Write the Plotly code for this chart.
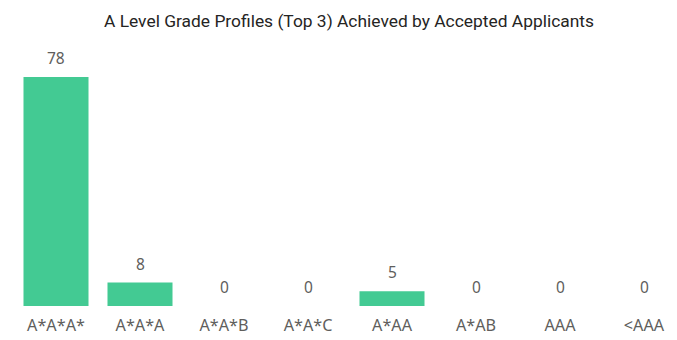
import plotly.graph_objects as go

# Grade profiles and number of accepted applicants for each
grade_profiles = ["A*A*A*", "A*A*A", "A*A*B", "A*A*C", "A*AA", "A*AB", "AAA", "<AAA"]
applicants = [78, 8, 0, 0, 5, 0, 0, 0]

bar_color = "#43CA93"
label_color = "#605E5C"
label_font = "Noto Sans"

fig = go.Figure(
    go.Bar(
        x=grade_profiles,
        y=applicants,
        marker=dict(color=bar_color, line=dict(width=0)),
        width=0.774,
        hoverinfo="x+y",
    )
)

# Value labels above each bar
for cat, val in zip(grade_profiles, applicants):
    fig.add_annotation(
        x=cat, y=val, text=str(val), showarrow=False,
        yanchor="bottom", yshift=6,
        font=dict(family=label_font, size=15.5, color=label_color),
    )

fig.update_layout(
    width=677,
    height=340,
    margin=dict(l=0, r=0, t=60, b=34),
    plot_bgcolor="white",
    paper_bgcolor="white",
    showlegend=False,
    title=dict(
        text="A Level Grade Profiles (Top 3) Achieved by Accepted Applicants",
        x=349 / 677, xanchor="center",
        y=1 - 21 / 340, yanchor="middle",
        font=dict(family="Roboto", size=17.4, color="#252423"),
    ),
    xaxis=dict(
        range=[-56 / 84, (677 - 56) / 84],
        showgrid=False, zeroline=False, showline=False,
        ticks="", ticklabelstandoff=8,
        tickfont=dict(family=label_font, size=16.2, color=label_color),
        fixedrange=True,
    ),
    yaxis=dict(
        range=[0, 246 / (229 / 78)],
        visible=False, showgrid=False, zeroline=False,
        fixedrange=True,
    ),
)

fig.write_html("out.html")
